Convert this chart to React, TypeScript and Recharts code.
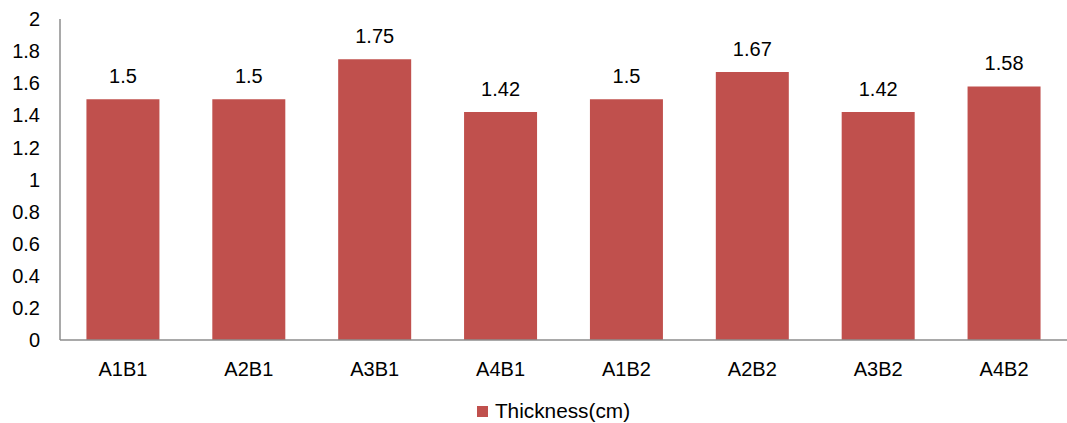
import React from 'react'
import { BarChart, Bar, XAxis, YAxis, Legend, LabelList } from 'recharts'

const categories = ['A1B1', 'A2B1', 'A3B1', 'A4B1', 'A1B2', 'A2B2', 'A3B2', 'A4B2']
const thickness = [1.5, 1.5, 1.75, 1.42, 1.5, 1.67, 1.42, 1.58]
const yTicks = [0, 0.2, 0.4, 0.6, 0.8, 1, 1.2, 1.4, 1.6, 1.8, 2]

const BAR_COLOR = '#C0504D'
const FONT = 'Arial, "Liberation Sans", sans-serif'
const FONT_SIZE = 20

const data = categories.map((name, i) => ({ name, thickness: thickness[i] }))

// legend sits a little right of center, under the plot area
const LegendContent = () => (
  <div
    style={{
      display: 'flex',
      justifyContent: 'center',
      alignItems: 'center',
      fontFamily: FONT,
      fontSize: 20.8,
      color: '#000',
      height: 24,
      paddingLeft: 40,
    }}
  >
    <span style={{ width: 11, height: 11, background: BAR_COLOR, marginRight: 7, display: 'inline-block' }} />
    <span>Thickness(cm)</span>
  </div>
)

export default function App() {
  return (
    <div style={{ position: 'absolute', left: 0, top: 0, width: 1067, height: 423, background: '#fff' }}>
      <BarChart
        width={1067}
        height={423}
        data={data}
        margin={{ top: 19, right: 0, left: 0, bottom: 0 }}
        barCategoryGap="21%"
      >
        <XAxis
          dataKey="name"
          height={59}
          tickLine={false}
          tickMargin={16}
          axisLine={{ stroke: '#8c8c8c', strokeWidth: 1.5 }}
          tick={{ fill: '#000', fontSize: FONT_SIZE, fontFamily: FONT }}
        />
        <YAxis
          width={60}
          domain={[0, 2]}
          ticks={yTicks}
          interval={0}
          tickLine={false}
          tickMargin={14}
          axisLine={{ stroke: '#8c8c8c', strokeWidth: 1.5 }}
          tick={{ fill: '#000', fontSize: FONT_SIZE, fontFamily: FONT }}
        />
        <Legend verticalAlign="bottom" content={<LegendContent />} />
        <Bar dataKey="thickness" fill={BAR_COLOR} isAnimationActive={false}>
          <LabelList
            dataKey="thickness"
            position="top"
            offset={16}
            style={{ fill: '#000', fontSize: FONT_SIZE, fontFamily: FONT }}
          />
        </Bar>
      </BarChart>
    </div>
  )
}
